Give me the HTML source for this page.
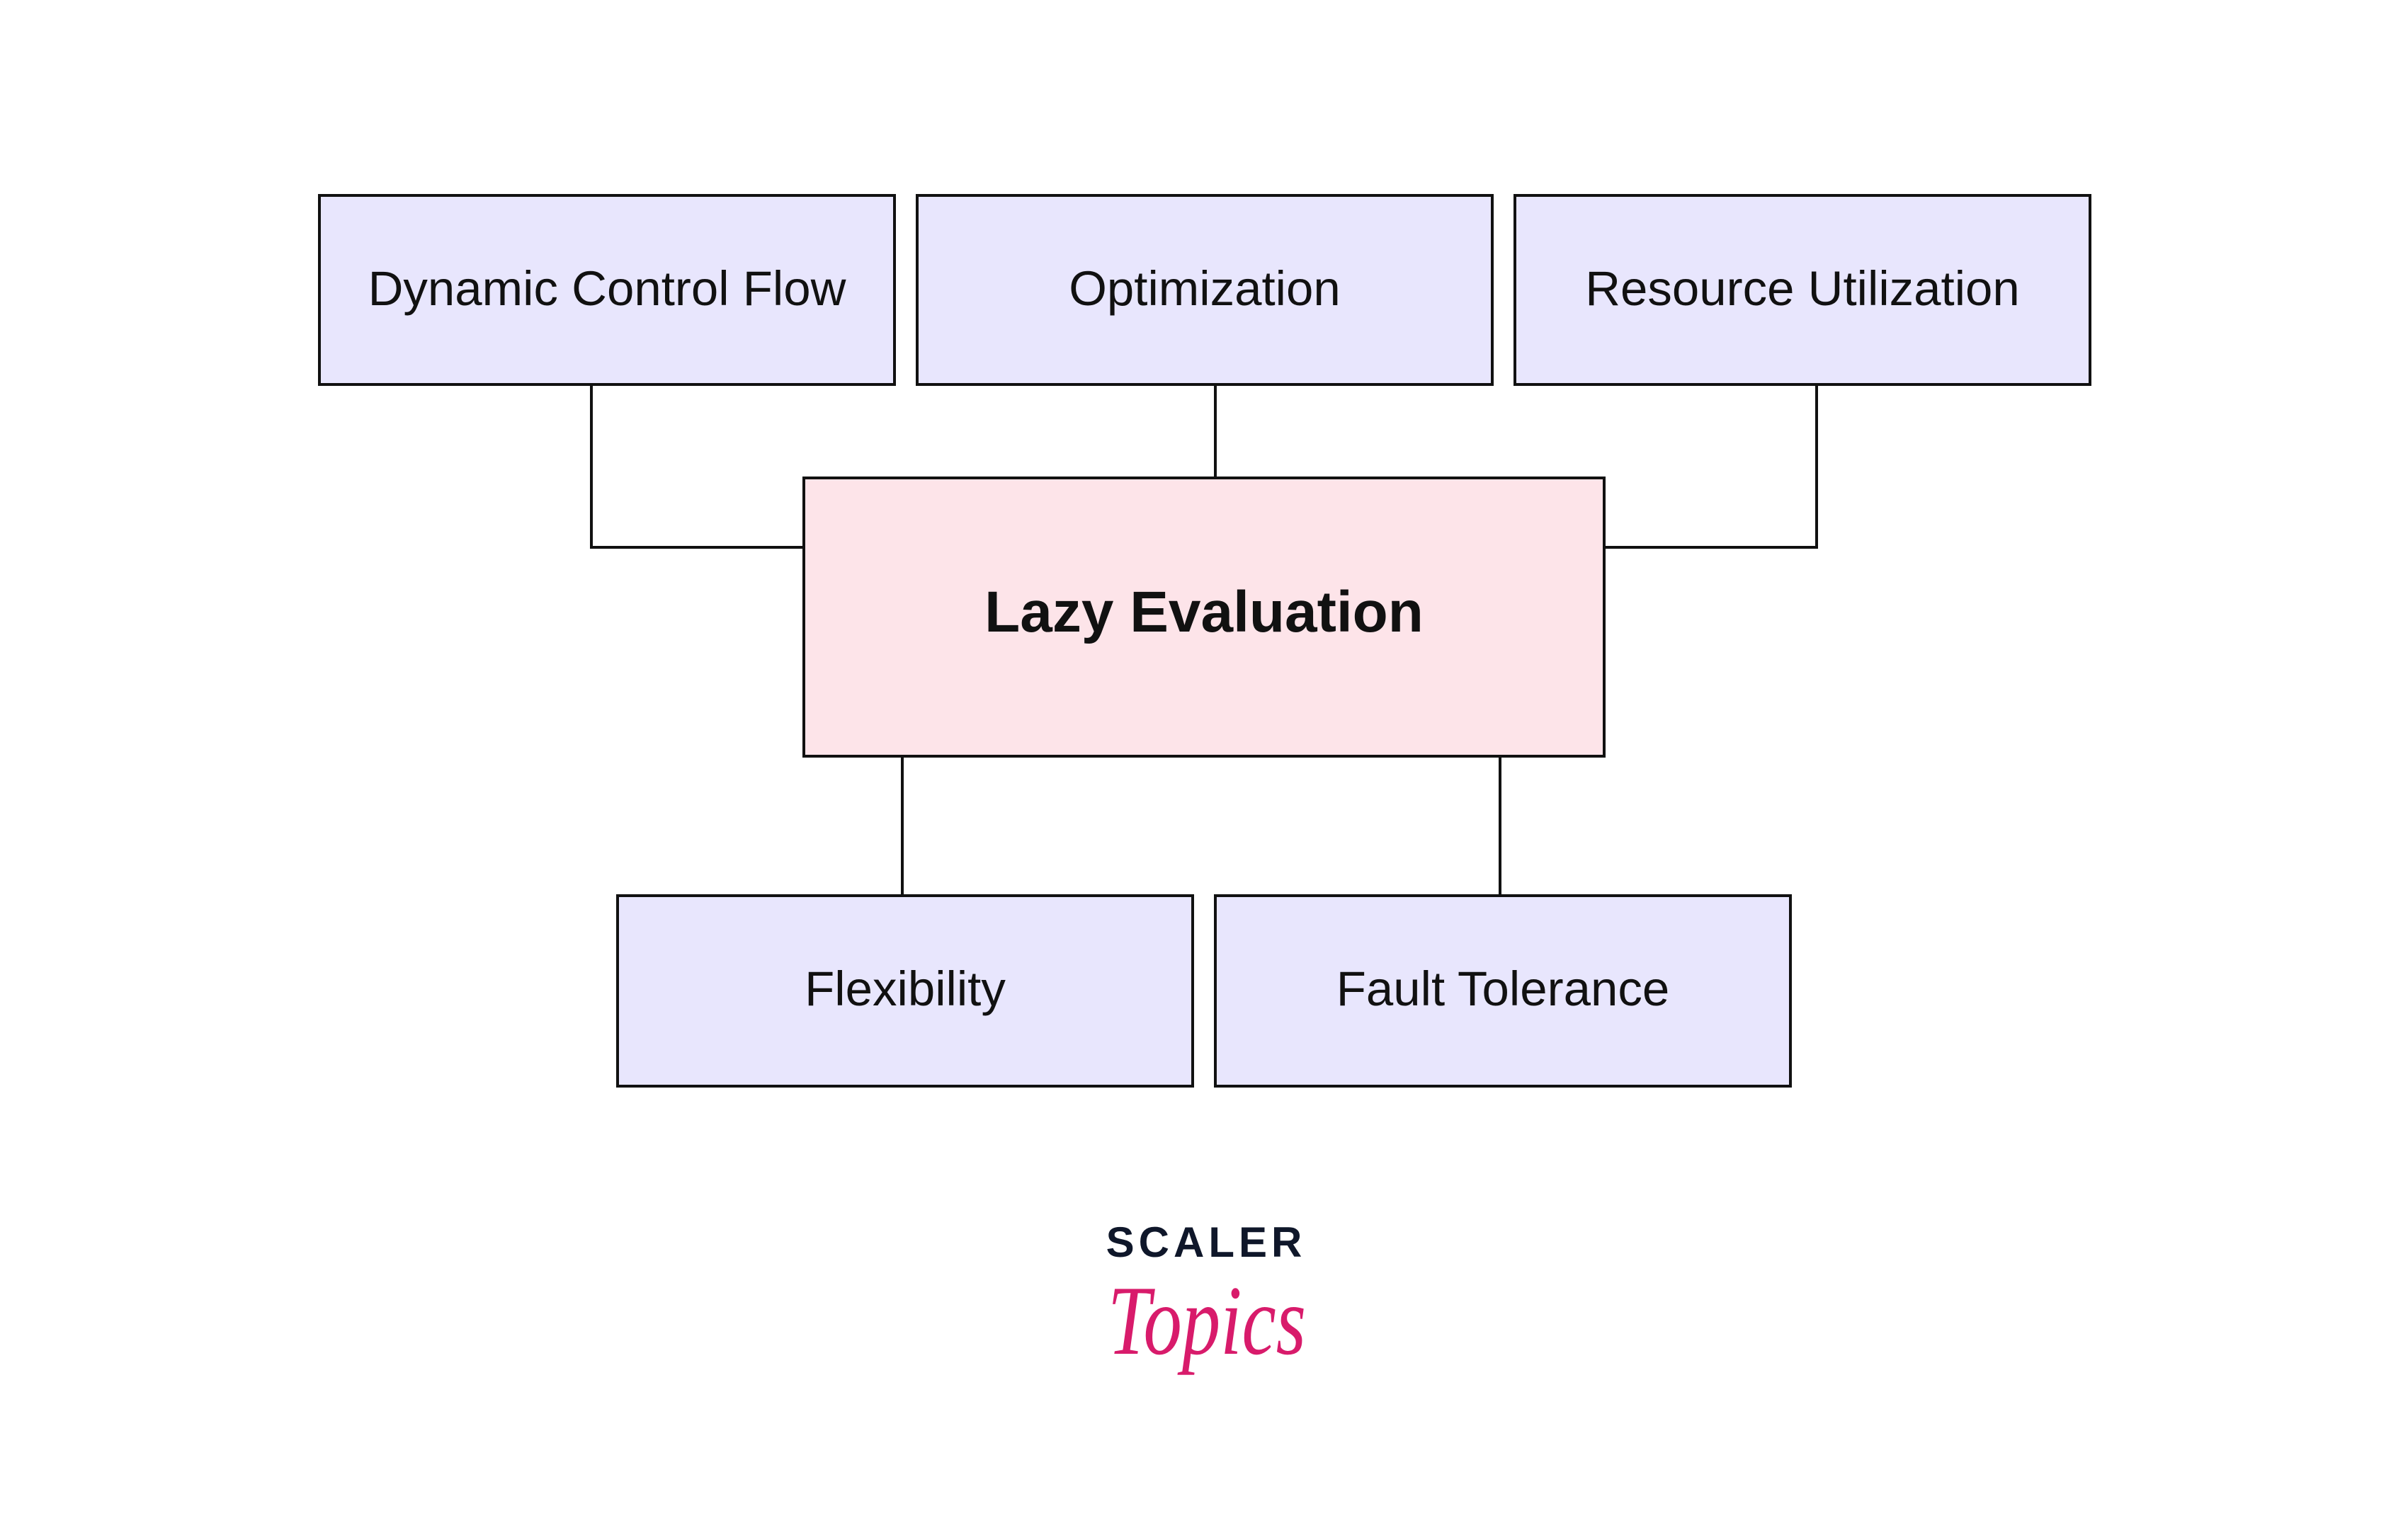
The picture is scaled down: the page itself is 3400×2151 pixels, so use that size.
<!DOCTYPE html>
<html><head><meta charset="utf-8"><style>
html,body{margin:0;padding:0;background:#fff;}
svg{display:block;}
</style></head><body>
<svg width="3400" height="2151" viewBox="0 0 3400 2151" xmlns="http://www.w3.org/2000/svg">
<rect width="3400" height="2151" fill="#fff"/>
<g stroke="#111" stroke-width="4" fill="none">
<polyline points="835,543 835,773 1135,773"/>
<line x1="1716" y1="543" x2="1716" y2="675"/>
<polyline points="2565,543 2565,773 2265,773"/>
<line x1="1274" y1="1068" x2="1274" y2="1265"/>
<line x1="2118" y1="1068" x2="2118" y2="1265"/>
</g>
<g stroke="#111" stroke-width="4" fill="#e8e6fd">
<rect x="451" y="276" width="812" height="267"/>
<rect x="1295" y="276" width="812" height="267"/>
<rect x="2139" y="276" width="812" height="267"/>
<rect x="872" y="1265" width="812" height="269"/>
<rect x="1716" y="1265" width="812" height="269"/>
</g>
<rect x="1135" y="675" width="1130" height="393" fill="#fde4e9" stroke="#111" stroke-width="4"/>
<g font-family="Liberation Sans, sans-serif" font-size="69" fill="#111" text-anchor="middle">
<text x="857" y="431">Dynamic Control Flow</text>
<text x="1701" y="431">Optimization</text>
<text x="2545" y="431">Resource Utilization</text>
<text x="1278" y="1420">Flexibility</text>
<text x="2122" y="1420">Fault Tolerance</text>
<text x="1700" y="892" font-size="82" font-weight="bold">Lazy Evaluation</text>
</g>
<text x="1703" y="1775" font-family="Liberation Sans, sans-serif" font-weight="bold" font-size="60" letter-spacing="6" fill="#0f172a" text-anchor="middle">SCALER</text>
<text x="1704" y="1912" font-family="Liberation Serif, serif" font-style="italic" font-size="140" fill="#d81b6b" text-anchor="middle" textLength="280" lengthAdjust="spacingAndGlyphs">Topics</text>
</svg>
</body></html>
